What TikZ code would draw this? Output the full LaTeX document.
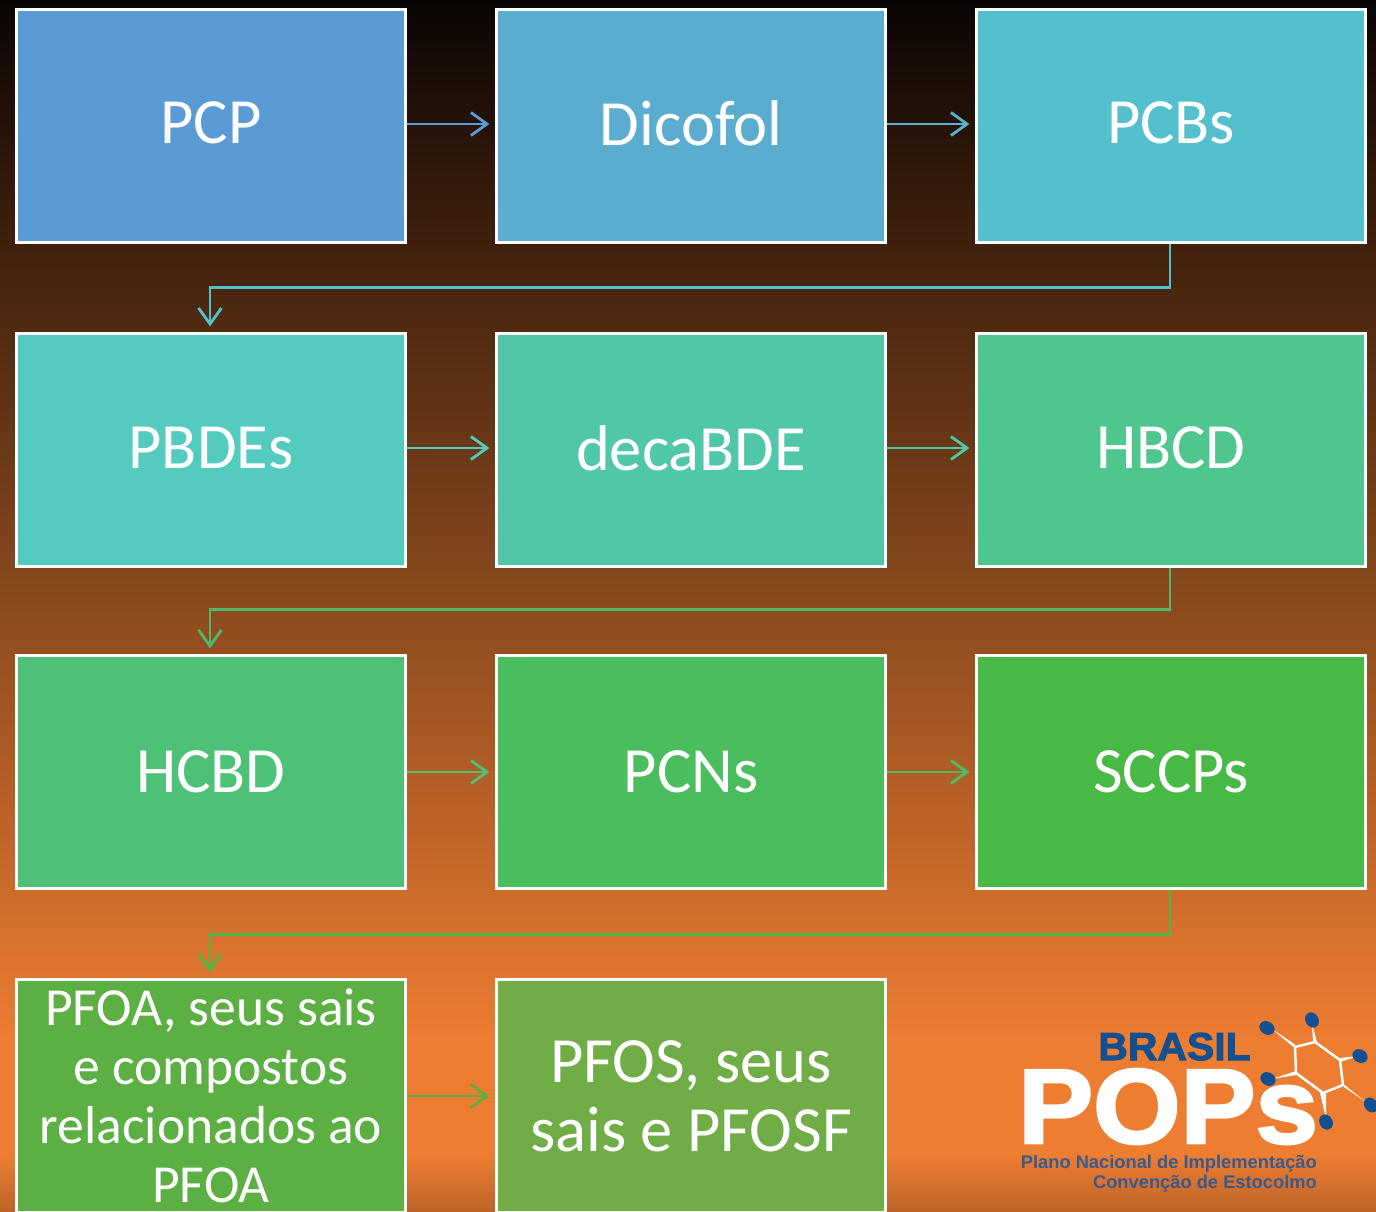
\documentclass[tikz,border=0pt]{standalone}
\usepackage{fontspec}
\setmainfont{Carlito}
\newfontfamily\logofont[BoldFeatures={FakeBold=2.5}]{Liberation Sans}
\newfontfamily\logosmall{Liberation Sans}
\usetikzlibrary{arrows.meta,calc,shapes.geometric}
\definecolor{bgA}{HTML}{0A0504}
\definecolor{bgB}{HTML}{3F200D}
\definecolor{bgC}{HTML}{8A4A1E}
\definecolor{bgD}{HTML}{CF6C2B}
\definecolor{bgE}{HTML}{ED7D31}
\definecolor{bgF}{HTML}{BE6429}
\definecolor{cA}{HTML}{5B9BD5}
\definecolor{cB}{HTML}{5AADCF}
\definecolor{cC}{HTML}{54C0CD}
\definecolor{cD}{HTML}{54CBBF}
\definecolor{cE}{HTML}{50C7A8}
\definecolor{cF}{HTML}{4FC68D}
\definecolor{cFline}{HTML}{4FB86A}
\definecolor{cG}{HTML}{4DC276}
\definecolor{cH}{HTML}{4ABD5F}
\definecolor{cI}{HTML}{49B945}
\definecolor{cJ}{HTML}{5CAF42}
\definecolor{cK}{HTML}{70AD47}
\definecolor{logoblue}{HTML}{14508F}
\definecolor{logotext}{HTML}{3A5A8C}
\tikzset{
  popbox/.style={draw=white,line width=2.8pt,fill=#1,text=white,minimum width=389.5pt,minimum height=233.5pt,inner sep=0pt,align=center,font=\fontsize{64.5}{69}\selectfont},
  rowone/.style={text depth=6pt},
  rowtwo/.style={text depth=4pt},
  flow/.style={draw=#1,line width=2.8pt,-{Straight Barb[length=16pt,width=23pt,line width=2.8pt]},shorten >=5.5pt},
  up/.style={yshift=2pt},
  bond/.style={fill=white,draw=none},
  atom/.style={fill=logoblue,draw=none,ellipse,minimum width=16pt,minimum height=13pt}
}
\begin{document}
\begin{tikzpicture}[x=1pt,y=-1pt]
\useasboundingbox (0,0) rectangle (1376,1211);
\clip (0,0) rectangle (1376,1211);
\fill[top color=bgA,bottom color=bgB] (0,0) rectangle (1376,240);
\fill[top color=bgB,bottom color=bgC] (0,239.5) rectangle (1376,600);
\fill[top color=bgC,bottom color=bgD] (0,599.5) rectangle (1376,900);
\fill[top color=bgD,bottom color=bgE] (0,899.5) rectangle (1376,1040);
\fill[bgE] (0,1039.5) rectangle (1376,1155);
\fill[top color=bgE,bottom color=bgF] (0,1154.5) rectangle (1376,1211);
\node[popbox=cA,rowone] (pcp) at (211,126) {PCP};
\node[popbox=cB,rowone] (dicofol) at (691,126) {Dicofol};
\node[popbox=cC,rowone] (pcbs) at (1171,126) {PCBs};
\node[popbox=cD,rowtwo] (pbdes) at (211,450) {PBDEs};
\node[popbox=cE,rowtwo] (deca) at (691,450) {decaBDE};
\node[popbox=cF,rowtwo] (hbcd) at (1171,450) {HBCD};
\node[popbox=cG] (hcbd) at (211,772) {HCBD};
\node[popbox=cH] (pcns) at (691,772) {PCNs};
\node[popbox=cI] (sccps) at (1171,772) {SCCPs};
\node[popbox=cJ,font=\fontsize{53.5}{59}\selectfont] (pfoa) at (211,1096) {PFOA, seus sais\\e compostos\\relacionados ao\\PFOA};
\node[popbox=cK] (pfos) at (691,1096) {PFOS, seus\\sais e PFOSF};
\draw[flow=cA] ([up]pcp.east) -- ([up]dicofol.west);
\draw[flow=cB!70!cC] ([up]dicofol.east) -- ([up]pcbs.west);
\draw[flow=cC] ([xshift=-1pt]pcbs.south) -- ($(pcbs.south)+(-1,43.5)$) -| ([xshift=-1pt]pbdes.north);
\draw[flow=cD] ([up]pbdes.east) -- ([up]deca.west);
\draw[flow=cE] ([up]deca.east) -- ([up]hbcd.west);
\draw[flow=cFline] ([xshift=-1pt]hbcd.south) -- ($(hbcd.south)+(-1,41.5)$) -| ([xshift=-1pt]hcbd.north);
\draw[flow=cG] (hcbd) -- (pcns);
\draw[flow=cH] (pcns) -- (sccps);
\draw[flow=cI] ([xshift=-1pt]sccps.south) -- ($(sccps.south)+(-1,44.5)$) -| ([xshift=-1pt]pfoa.north);
\draw[flow=cJ] (pfoa) -- (pfos);
% logo
\draw[white,line width=2.5pt,line join=round] (1295,1047) -- (1315,1042) -- (1340,1060) -- (1343,1085) -- (1323,1093) -- (1296,1073) -- cycle;
\fill[bond] (1295,1044.5) -- (1296,1049) -- (1272,1029) -- cycle;
\fill[bond] (1313,1042) -- (1317,1042) -- (1312,1024) -- cycle;
\fill[bond] (1340,1058) -- (1340,1062) -- (1358,1056) -- cycle;
\fill[bond] (1342,1083) -- (1344,1087) -- (1366,1102) -- cycle;
\fill[bond] (1320,1093) -- (1326,1094) -- (1326,1118) -- cycle;
\fill[bond] (1296,1071) -- (1296,1075) -- (1272,1079) -- cycle;
\node[atom,rotate=-30] (a1) at (1267,1028) {};
\node[atom,rotate=-60] (a2) at (1312,1020) {};
\node[atom,rotate=-30] (a3) at (1360,1056) {};
\node[atom,rotate=-50] (a4) at (1371,1105) {};
\node[atom,rotate=-60] (a5) at (1326,1122) {};
\node[atom,rotate=-30] (a6) at (1268,1079) {};
\node[anchor=base,inner sep=0pt,text=logoblue,font=\logofont\bfseries\fontsize{39}{39}\selectfont,xscale=1.05] (brasil) at (1174.5,1060) {BRASIL};
\node[anchor=base west,inner sep=0pt,text=white,font=\logofont\bfseries\fontsize{106}{106}\selectfont,xscale=1.06] (pops) at (1018,1143) {POPs};
\node[anchor=base east,inner sep=0pt,text=logotext,font=\logosmall\bfseries\fontsize{18.3}{18.3}\selectfont] (plano) at (1317,1168) {Plano Nacional de Implementação};
\node[anchor=base east,inner sep=0pt,text=logotext,font=\logosmall\bfseries\fontsize{18.3}{18.3}\selectfont] (conv) at (1317,1188) {Convenção de Estocolmo};
\end{tikzpicture}
\end{document}
